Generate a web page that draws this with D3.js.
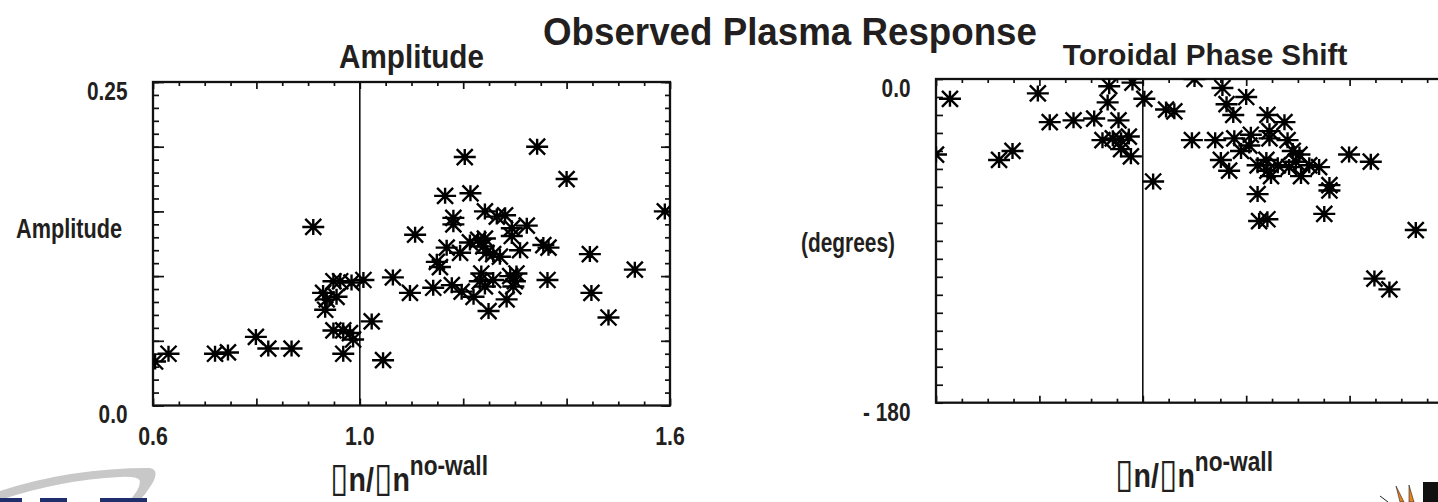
<!DOCTYPE html>
<html>
<head>
<meta charset="utf-8">
<script src="https://cdn.jsdelivr.net/npm/d3@7"></script>
<style>
  body { margin: 0; background: #fff; }
  svg { display: block; }
  text { font-family: "Liberation Sans", Arial, Helvetica, sans-serif; font-weight: bold; fill: #231f20; }
</style>
</head>
<body>
<svg id="fig" width="1438" height="502"></svg>
<script>
// left panel: amplitude vs beta_n / beta_n(no-wall)
const ampBeta = [
  0.604, 0.630, 0.720, 0.745, 0.799, 0.823, 0.868, 0.910, 0.929, 0.936,
  0.933, 0.955, 0.962, 0.984, 1.007, 0.949, 0.968, 0.981, 0.987, 0.968,
  1.023, 1.045, 1.064, 1.097, 1.107, 1.142, 1.149, 1.155, 1.168, 1.178,
  1.194, 1.197, 1.165, 1.181, 1.181, 1.203, 1.214, 1.213, 1.229, 1.242,
  1.239, 1.245, 1.258, 1.271, 1.242, 1.265, 1.281, 1.294, 1.294, 1.323,
  1.310, 1.355, 1.365, 1.343, 1.400, 1.445, 1.448, 1.481, 1.532, 1.590,
  1.363, 1.220, 1.232, 1.235, 1.242, 1.249, 1.258, 1.284, 1.291, 1.300,
  1.303, 1.297, 0.949
];
const ampValue = [
  0.034, 0.040, 0.040, 0.041, 0.053, 0.044, 0.044, 0.138, 0.087, 0.082,
  0.074, 0.084, 0.096, 0.095, 0.097, 0.058, 0.058, 0.056, 0.051, 0.040,
  0.065, 0.035, 0.099, 0.087, 0.132, 0.091, 0.111, 0.107, 0.122, 0.093,
  0.118, 0.088, 0.162, 0.145, 0.140, 0.192, 0.164, 0.126, 0.128, 0.129,
  0.123, 0.118, 0.117, 0.115, 0.150, 0.146, 0.147, 0.137, 0.131, 0.139,
  0.120, 0.124, 0.122, 0.200, 0.175, 0.117, 0.087, 0.068, 0.105, 0.150,
  0.097, 0.084, 0.096, 0.102, 0.092, 0.073, 0.097, 0.082, 0.100, 0.096,
  0.102, 0.092, 0.096
];

// right panel: toroidal phase shift (degrees)
const phaseBeta = [
  0.600, 0.627, 0.722, 0.748, 0.797, 0.820, 0.866, 0.906, 0.935, 0.932,
  0.953, 0.922, 0.942, 0.958, 0.973, 0.958, 0.977, 0.980, 1.003, 1.020,
  1.045, 1.061, 1.100, 1.095, 1.140, 1.154, 1.162, 1.175, 1.200, 1.151,
  1.167, 1.177, 1.190, 1.209, 1.206, 1.241, 1.274, 1.245, 1.245, 1.222,
  1.239, 1.241, 1.248, 1.261, 1.280, 1.290, 1.303, 1.296, 1.283, 1.306,
  1.322, 1.341, 1.361, 1.361, 1.222, 1.225, 1.241, 1.351, 1.399, 1.441,
  1.528, 1.448, 1.477
];
const phaseShift = [
  -42, -11, -45, -40, -8, -24, -23, -22, -4, -13,
  -23, -34, -33, -34, -32, -39, -43, -2, -11, -57,
  -17, -18, 0, -34, -34, -5, -14, -20, -10, -45,
  -51, -33, -40, -31, -37, -20, -24, -29, -33, -48,
  -45, -51, -54, -48, -34, -40, -42, -46, -49, -54,
  -48, -49, -59, -62, -64, -79, -78, -75, -42, -46,
  -84, -111, -117
];

const xTickLabels = ["0.6", "1.0", "1.6"];
const ampTickLabels = ["0.25", "0.0"];
const phaseTickLabels = ["0.0", "- 180"];

const svg = d3.select("#fig");

// squeeze a text horizontally so it fills the given width (condensed face)
function squeeze(t, ax, w) {
  const bw = t.node().getBBox().width;
  const s = w / bw;
  t.attr("transform", `translate(${ax},0) scale(${s},1) translate(${-ax},0)`);
}
function narrow(t, ax, s) {
  t.attr("transform", `translate(${ax},0) scale(${s},1) translate(${-ax},0)`);
}

const star = "M-11,0H11M0,-8V8M-8,-8L8,8M-8,8L8,-8";

function drawPanel(cfg) {
  const x = d3.scaleLinear().domain([0.6, 1.6]).range(cfg.xRange);
  const y = d3.scaleLinear().domain(cfg.yDomain).range(cfg.yRange);
  const g = svg.append("g");
  const [x0, x1] = cfg.xRange;
  const [yb, yt] = cfg.yRange;

  g.append("clipPath").attr("id", cfg.id + "-clip")
    .append("rect").attr("x", x0).attr("y", yt).attr("width", x1 - x0).attr("height", yb - yt);

  const xMinor = d3.range(0.6, 1.6001, 0.05).filter(v => Math.abs(v * 5 - Math.round(v * 5)) > 1e-6);
  const xMajor = d3.range(0.6, 1.6001, 0.2);

  const tickAxis = (axis, tr, len, vals) => {
    g.append("g").attr("transform", tr)
      .call(axis.tickValues(vals).tickSize(len).tickFormat(""))
      .call(a => a.select(".domain").remove())
      .call(a => a.selectAll("line").attr("stroke", "#111").attr("stroke-width", 1.7));
  };
  tickAxis(d3.axisBottom(x), `translate(0,${yb})`, -4, xMinor);
  tickAxis(d3.axisBottom(x), `translate(0,${yb})`, -7, xMajor);
  tickAxis(d3.axisTop(x), `translate(0,${yt})`, -4, xMinor);
  tickAxis(d3.axisTop(x), `translate(0,${yt})`, -7, xMajor);
  tickAxis(d3.axisLeft(y), `translate(${x0},0)`, -cfg.yMinorLen, cfg.yMinor);
  if (cfg.yMajor.length) tickAxis(d3.axisLeft(y), `translate(${x0},0)`, -11, cfg.yMajor);
  if (cfg.rightTicks) {
    tickAxis(d3.axisLeft(y), `translate(${x1},0)`, 5, cfg.yMinor);
    tickAxis(d3.axisLeft(y), `translate(${x1},0)`, 9, cfg.yMajor);
  }

  // frame
  g.append("rect").attr("x", x0).attr("y", yt).attr("width", x1 - x0).attr("height", yb - yt)
    .attr("fill", "none").attr("stroke", "#111").attr("stroke-width", 2.3);

  // marginal-stability line
  g.append("line").attr("x1", x(1.0)).attr("x2", x(1.0)).attr("y1", yt).attr("y2", yb)
    .attr("stroke", "#111").attr("stroke-width", 1.6);

  // points
  g.append("g").attr("clip-path", `url(#${cfg.id}-clip)`)
    .selectAll("path").data(cfg.xs.map((v, i) => [v, cfg.ys[i]])).enter()
    .append("path")
    .attr("d", star)
    .attr("transform", d => `translate(${x(d[0])},${y(d[1])})`)
    .attr("fill", "none").attr("stroke", "#000").attr("stroke-width", 2.4);

  // x tick labels
  if (cfg.showXTicks) {
    [0.6, 1.0, 1.6].forEach((v, i) => {
      const t = g.append("text").attr("x", x(v)).attr("y", yb + 40)
        .attr("text-anchor", "middle").attr("font-size", 26).text(xTickLabels[i]);
      narrow(t, x(v), 0.82);
    });
  }

  // y tick labels (top and bottom value)
  cfg.yDomain.slice().reverse().forEach((v, i) => {
    const t = g.append("text").attr("x", x0 - 25.5).attr("y", y(v) + 18)
      .attr("text-anchor", "end").attr("font-size", 26).text(cfg.yTickLabels[i]);
    narrow(t, x0 - 25.5, 0.8);
  });

  // panel title
  const tt = g.append("text").attr("x", cfg.titleX).attr("y", yt - cfg.titleGap)
    .attr("text-anchor", "middle").attr("font-size", cfg.titleSize).text(cfg.title);
  squeeze(tt, cfg.titleX, cfg.titleW);

  // y label
  const yl = g.append("text").attr("x", cfg.yLabelX).attr("y", cfg.yLabelY)
    .attr("text-anchor", "end").attr("font-size", 27).text(cfg.yLabel);
  squeeze(yl, cfg.yLabelX, cfg.yLabelW);

  // x label: beta_n / beta_n^no-wall (symbol glyph missing in the source)
  const xl = g.append("text").attr("x", cfg.xLabelX).attr("y", cfg.xLabelY)
    .attr("text-anchor", "middle").attr("font-size", 34);
  xl.append("tspan").attr("font-family", "DejaVu Sans").attr("font-weight", "normal").attr("font-size", 40).text("\u25AF");
  xl.append("tspan").text("n/");
  xl.append("tspan").attr("font-family", "DejaVu Sans").attr("font-weight", "normal").attr("font-size", 40).text("\u25AF");
  xl.append("tspan").text("n");
  xl.append("tspan").attr("font-size", 27).attr("dy", -16).text("no-wall");
  squeeze(xl, cfg.xLabelX, 158);
}

drawPanel({
  id: "amp", xRange: [153, 670], yDomain: [0, 0.25], yRange: [405.5, 82],
  yMinor: d3.range(0, 0.2501, 0.01), yMajor: d3.range(0, 0.2501, 0.05), yMinorLen: 6,
  rightTicks: true, xs: ampBeta, ys: ampValue, showXTicks: true,
  yTickLabels: ampTickLabels,
  title: "Amplitude", titleX: 411.5, titleW: 145, titleSize: 34, titleGap: 14,
  yLabel: "Amplitude", yLabelX: 122, yLabelY: 238, yLabelW: 106,
  xLabelX: 409, xLabelY: 491
});

drawPanel({
  id: "phase", xRange: [936, 1453], yDomain: [-180, 0], yRange: [402.7, 79],
  yMinor: d3.range(-180, 0.01, 10), yMajor: [], yMinorLen: 7,
  rightTicks: false, xs: phaseBeta, ys: phaseShift, showXTicks: false,
  yTickLabels: phaseTickLabels,
  title: "Toroidal Phase Shift", titleX: 1205, titleW: 285, titleSize: 29, titleGap: 14,
  yLabel: "(degrees)", yLabelX: 895, yLabelY: 252, yLabelW: 94,
  xLabelX: 1194, xLabelY: 487
});

// main title
const mt = svg.append("text").attr("x", 790).attr("y", 45)
  .attr("text-anchor", "middle").attr("font-size", 39).text("Observed Plasma Response");
squeeze(mt, 790, 494);

// corner logos (cropped at the page edge)
const logoL = svg.append("g");
logoL.append("path")
  .attr("d", "M0,491 Q70,468 150,468 Q160,470 152,484 Q146,494 138,502 L128,502 Q140,490 140,481 Q138,476 120,477 Q60,480 0,500 Z")
  .attr("fill", "#c8c8c8");
[[0, 22], [40, 27], [100, 47]].forEach(r => {
  logoL.append("rect").attr("x", r[0]).attr("y", 498).attr("width", r[1]).attr("height", 4).attr("fill", "#1f2f6e");
});
const logoR = svg.append("g");
logoR.append("rect").attr("x", 1423).attr("y", 482).attr("width", 15).attr("height", 20).attr("fill", "#111");
logoR.append("path").attr("d", "M1396,486 L1404,502 L1400,502 Z M1409,485 L1414,502 L1409,502 Z")
  .attr("fill", "#e8821e").attr("stroke", "#222").attr("stroke-width", 0.6);
logoR.append("line").attr("x1", 1380).attr("y1", 496).attr("x2", 1388).attr("y2", 502)
  .attr("stroke", "#222").attr("stroke-width", 1);
</script>
</body>
</html>
